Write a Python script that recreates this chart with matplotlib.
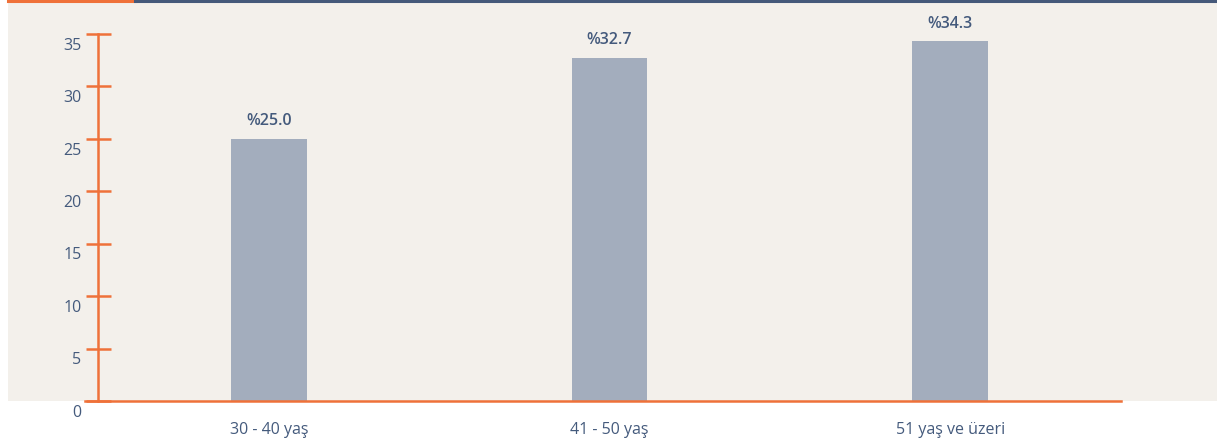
import matplotlib.pyplot as plt
from matplotlib.patches import Rectangle
from matplotlib.lines import Line2D
import matplotlib.transforms as mtransforms

categories = ["30 - 40 yaş", "41 - 50 yaş", "51 yaş ve üzeri"]
values = [25.0, 32.7, 34.3]
yticks = [0, 5, 10, 15, 20, 25, 30, 35]

ORANGE = "#ef7139"
NAVY = "#45597a"
BAR = "#a3adbd"
BG = "#f3f0eb"
TXT = "#445a7c"

plt.rcParams["font.family"] = ["Open Sans", "DejaVu Sans"]

W, H = 1217, 440
fig = plt.figure(figsize=(W / 100, H / 100), dpi=100)
fig.patch.set_facecolor("white")

# beige panel + top border
fig.add_artist(Rectangle((8 / W, 1 - 401 / H), 1 - 8 / W, 401 / H,
                         transform=fig.transFigure, facecolor=BG, edgecolor="none", zorder=0))
fig.add_artist(Line2D([8 / W, 135 / W], [1 - 1.5 / H] * 2, transform=fig.transFigure,
                      color=ORANGE, lw=2.2))
fig.add_artist(Line2D([135 / W, 1], [1 - 1.5 / H] * 2, transform=fig.transFigure,
                      color=NAVY, lw=2.2))

ax = fig.add_axes([85 / W, 39 / H, (1121 - 85) / W, 367 / H])
ax.set_facecolor("none")

x = range(len(categories))
bars = ax.bar(x, values, width=76 / 341, color=BAR, zorder=2)
ax.set_xlim(-184 / 341, 2 + 171 / 341)
ax.set_ylim(0, 35)

for b, v in zip(bars, values):
    ax.annotate(f"%{v:.1f}", (b.get_x() + b.get_width() / 2, v), xytext=(0, 7),
                textcoords="offset points", ha="center", va="bottom",
                fontsize=11.5, color=TXT, fontweight="semibold")

for s in ["top", "right"]:
    ax.spines[s].set_visible(False)
ax.spines["left"].set_position(("outward", -13 * 0.72))
ax.spines["left"].set_bounds(0, 35)
for s in ["left", "bottom"]:
    ax.spines[s].set_color(ORANGE)
    ax.spines[s].set_linewidth(1.8)
ax.spines["bottom"].set_zorder(3)

ax.set_yticks(yticks)
ax.set_yticklabels([str(t) for t in yticks])
ax.tick_params(axis="y", direction="inout", length=18, width=1.8, color=ORANGE,
               labelcolor=TXT, labelsize=11.5, pad=2)
ax.set_xticks(list(x))
ax.set_xticklabels(categories)
ax.tick_params(axis="x", length=0, labelcolor=TXT, labelsize=11.5, pad=15)
for lab in ax.get_xticklabels() + ax.get_yticklabels():
    lab.set_fontweight("medium")

off = mtransforms.ScaledTranslation(-1 / 72, -7 / 72, fig.dpi_scale_trans)
for lab in ax.get_yticklabels():
    lab.set_transform(lab.get_transform() + off)

fig.savefig("out.png", dpi=100, facecolor="white")
